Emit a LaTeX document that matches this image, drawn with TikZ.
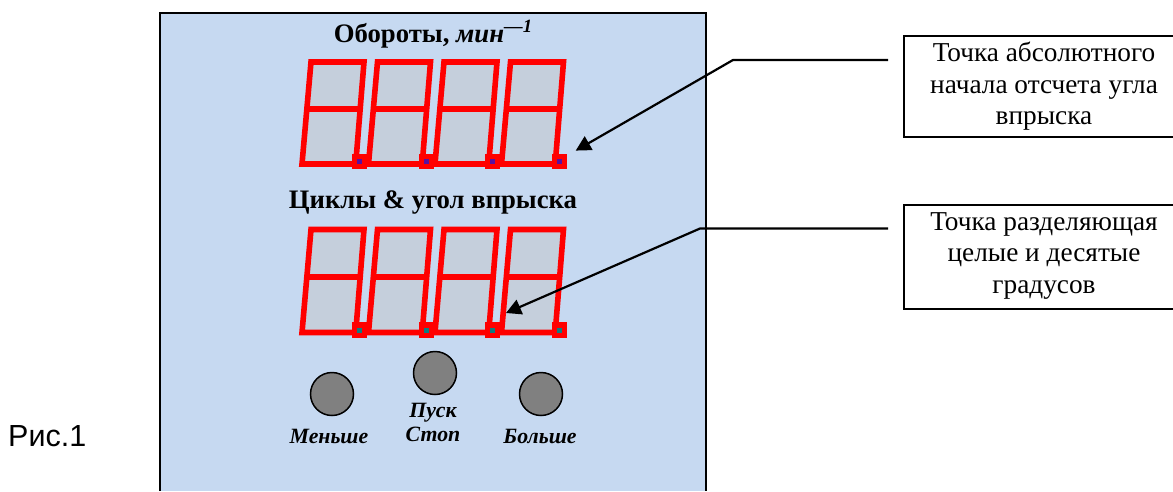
\documentclass[tikz,border=0pt]{standalone}
\usepackage{fontspec}
\setmainfont{Liberation Serif}
\newfontfamily\arialfont{Liberation Sans}
\usetikzlibrary{arrows.meta}
\definecolor{panelblue}{HTML}{C6D9F1}
\definecolor{seggrey}{HTML}{C5CFDC}
\definecolor{dotpurple}{HTML}{5A10A0}
\definecolor{dotteal}{HTML}{107C80}
\tikzset{
  x=1pt,y=-1pt,
  seg/.style={draw=red,line width=5.6pt,fill=seggrey,line join=miter},
  segline/.style={draw=red,line width=5.2pt},
  dotbox/.style={fill=red,minimum width=15pt,minimum height=15.5pt,inner sep=0pt},
  dotmark/.style={minimum size=5pt,inner sep=0pt},
  button/.style={circle,draw=black,line width=1.5pt,fill=black!50,minimum size=43pt,inner sep=0pt},
  title/.style={font=\fontsize{26.7}{30}\selectfont\bfseries,anchor=base,inner sep=0pt},
  keylabel/.style={font=\fontsize{21.8}{26}\selectfont\bfseries\itshape,anchor=base,inner sep=0pt},
  notetext/.style={font=\fontsize{27.3}{31.5}\selectfont,align=center,inner sep=0pt},
  frameline/.style={draw=black,line width=2pt},
  leader/.style={draw=black,line width=2.2pt,-{Triangle[length=15pt,width=15.5pt]}},
}
\newcommand{\digitrow}[3]{%
  \foreach \k in {0,1,2,3}{
    \begin{scope}[xshift=\k*66.5pt]
      \draw[seg] (311,#1) -- (364,#1) -- (355.7,#3) -- (302,#3) -- cycle;
      \draw[segline] ({311-9*(#2-#1)/(#3-#1)},#2) -- ({364-8.3*(#2-#1)/(#3-#1)},#2);
    \end{scope}
  }
}
\begin{document}
\begin{tikzpicture}
\useasboundingbox (0,0) rectangle (1173,491);
\fill[white] (0,0) rectangle (1173,491);
% panel
\coordinate (pnw) at (160,13);
\coordinate (pne) at (706,13);
\coordinate (psw) at (160,491);
\coordinate (pse) at (706,491);
\fill[panelblue] (pnw) rectangle (pse);
\draw[frameline] (psw) -- (pnw) -- (pne) -- (pse);
% titles
\node[title] (t1) at (433,42) {Обороты, \textit{мин}\raisebox{10pt}{\fontsize{18.7}{18.7}\selectfont\textit{—1}}};
\node[title] (t2) at (433,208) {Циклы \& угол впрыска};
% digits
\digitrow{62}{109}{164}
\digitrow{229.5}{277}{332.5}
\foreach \k in {0,1,2,3}{
  \node[dotbox] (a\k) at (359.5+66.5*\k,161.7) {};
  \node[dotmark,fill=dotpurple] (am\k) at (a\k) {};
  \node[dotbox] (b\k) at (359.5+66.5*\k,330) {};
  \node[dotmark,fill=dotteal] (bm\k) at (b\k) {};
}
% buttons
\node[button] (less) at (332,394) {};
\node[button] (start) at (435,373) {};
\node[button] (more) at (541,394) {};
\node[keylabel] (lessl) at (329,443) {Меньше};
\node[keylabel] (startl) at (433,417) {Пуск};
\node[keylabel] (stopl) at (433,441) {Стоп};
\node[keylabel] (morel) at (540,443) {Больше};
% caption
\node[font=\arialfont\fontsize{30.5}{32}\selectfont,anchor=base west,inner sep=0pt] (fig) at (8,446) {Рис.1};
% notes
\coordinate (n1sw) at (904,137);
\coordinate (n1nw) at (904,36);
\coordinate (n1se) at (1173,137);
\coordinate (n1ne) at (1173,36);
\draw[frameline] (n1ne) -- (n1nw) -- (n1sw) -- (n1se);
\node[notetext] (n1) at (1044,86.5) {Точка абсолютного\\начала отсчета угла\\впрыска};
\coordinate (n2sw) at (904,309);
\coordinate (n2nw) at (904,205);
\coordinate (n2se) at (1173,309);
\coordinate (n2ne) at (1173,205);
\draw[frameline] (n2ne) -- (n2nw) -- (n2sw) -- (n2se);
\node[notetext] (n2) at (1044,256) {Точка разделяющая\\целые и десятые\\градусов};
% leaders
\coordinate (l1a) at (888,60);
\coordinate (l1b) at (733,60);
\coordinate (l1c) at (575.7,150.6);
\draw[leader] (l1a) -- (l1b) -- (l1c);
\coordinate (l2a) at (888,228.5);
\coordinate (l2b) at (700,228.5);
\coordinate (l2c) at (506,313);
\draw[leader] (l2a) -- (l2b) -- (l2c);
\end{tikzpicture}
\end{document}
